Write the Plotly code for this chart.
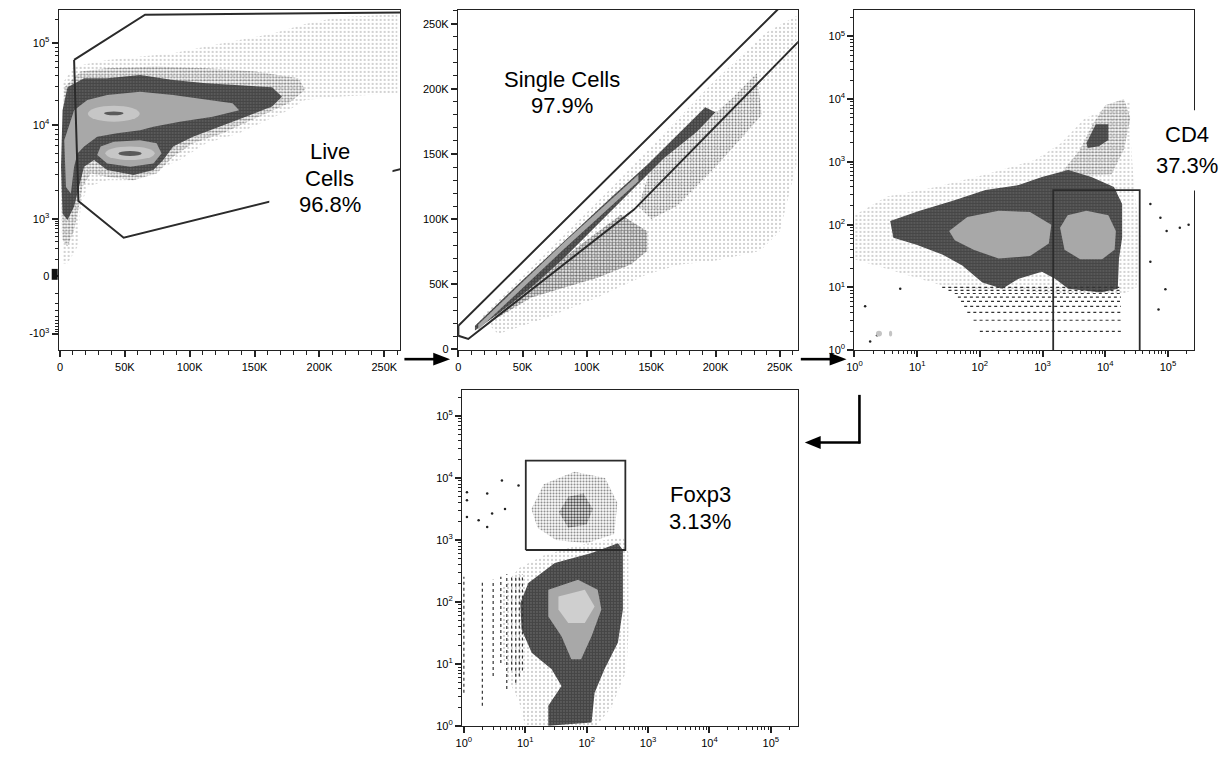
import numpy as np
import plotly.graph_objects as go

W, H = 1231, 764

# ======================= DATA =======================
# ---- Panel 1: FSC-A (linear) vs viability (biexponential) ----
p1_halo_x = [2.0e3, 0.8e3, 2.0e3, 10.9e3, 36.4e3, 61.8e3, 87.2e3, 112.7e3, 138.1e3, 163.5e3, 189e3, 214.4e3, 260.1e3,
             260.1e3, 214.4e3, 189e3, 176.2e3, 138.1e3, 112.7e3, 92.3e3, 74.5e3, 56.7e3, 36.4e3, 21.1e3, 16e3, 13.5e3, 5.8e3]
p1_halo_y = [72, 1600, 32.4e3, 51.8e3, 62.5e3, 68.5e3, 75.3e3, 91e3, 110e3, 132e3, 175e3, 212e3, 232e3,
             24.4e3, 22.2e3, 20.2e3, 15.2e3, 8.2e3, 6.4e3, 4.25e3, 3.33e3, 2.6e3, 2.6e3, 2.2e3, 1.36e3, 224, 72]
p1_mid_x = [2.0e3, 0.8e3, 3.3e3, 16e3, 36.4e3, 74.5e3, 112.7e3, 150.8e3, 183.9e3, 189e3, 176.2e3, 153.3e3, 125.4e3,
            102.5e3, 87.2e3, 74.5e3, 56.7e3, 36.4e3, 23.7e3, 17.3e3, 14.7e3, 10.9e3, 5.8e3]
p1_mid_y = [327, 2.2e3, 28.9e3, 45e3, 49.4e3, 51.8e3, 49.4e3, 45e3, 37.3e3, 26.8e3, 18.4e3, 12.6e3, 8.2e3,
            6.4e3, 4.6e3, 3.06e3, 2.6e3, 2.83e3, 3.06e3, 2.2e3, 1.36e3, 564, 224]
p1_dense_x = [2.0e3, 0.8e3, 2.0e3, 5.8e3, 18.6e3, 36.4e3, 61.8e3, 87.2e3, 112.7e3, 138.1e3, 163.5e3, 171.1e3, 163.5e3,
              143.2e3, 122.8e3, 102.5e3, 87.2e3, 79.6e3, 72e3, 56.7e3, 36.4e3, 26.2e3, 18.6e3, 14.7e3, 10.9e3, 5.8e3]
p1_dense_y = [1.15e3, 3.6e3, 15.2e3, 28.9e3, 37.3e3, 37.3e3, 40.9e3, 35.6e3, 32.4e3, 30.9e3, 28.9e3, 22.2e3, 16.8e3,
              12.6e3, 9.6e3, 7.5e3, 5.9e3, 4.25e3, 3.33e3, 2.94e3, 3.33e3, 4.25e3, 3.6e3, 2.2e3, 1.36e3, 954]
p1_gray_x = [4.6e3, 3.3e3, 10.9e3, 21.1e3, 36.4e3, 61.8e3, 87.2e3, 112.7e3, 133e3, 138.1e3, 117.7e3, 92.3e3, 72e3,
             61.8e3, 44e3, 28.7e3, 18.6e3, 13.5e3, 10.9e3, 8.4e3]
p1_gray_y = [2.2e3, 6.9e3, 15.2e3, 20.2e3, 23.3e3, 25.6e3, 23.3e3, 20.2e3, 18.4e3, 15.2e3, 12.6e3, 11e3, 9.6e3,
             8.8e3, 8.2e3, 7.5e3, 5.9e3, 5.0e3, 3.6e3, 1.88e3]
p1_lobe_x = [31.3e3, 41.5e3, 61.8e3, 74.5e3, 78.3e3, 72e3, 54.2e3, 36.4e3, 28.7e3]
p1_lobe_y = [5.9e3, 6.65e3, 6.9e3, 6.4e3, 5.0e3, 3.9e3, 3.6e3, 3.9e3, 4.8e3]
# density peaks (bounding boxes): [x0, x1, y0, y1]
p1_light_boxes = [[21.5e3, 61.5e3, 11e3, 17.2e3], [35e3, 73e3, 4.25e3, 5.9e3]]
p1_core_boxes = [[34e3, 49e3, 13.2e3, 14.6e3], [45e3, 63e3, 4.7e3, 5.3e3]]
p1_gate_x = [10.9e3, 65.6e3, 275e3, 275e3, 49.1e3, 14.2e3, 10.9e3]
p1_gate_y = [62.5e3, 228.6e3, 245e3, 3760, 371, 1560, 62.5e3]

# ---- Panel 2: FSC-A vs FSC-H (linear) ----
p2_halo_x = [18e3, 121e3, 198e3, 239.7e3, 262.9e3, 262.9e3, 250e3, 234.5e3, 198.4e3, 172.7e3, 146.9e3, 108.2e3, 69.6e3, 30.9e3]
p2_halo_y = [24.5e3, 126e3, 205e3, 243.6e3, 256e3, 141.7e3, 90.7e3, 75.4e3, 67.8e3, 65.2e3, 57.6e3, 39.7e3, 24.5e3, 11.7e3]
p2_mid2_x = [150e3, 185e3, 212e3, 232e3, 236e3, 200e3, 170e3, 150e3, 140e3]
p2_mid2_y = [140e3, 168e3, 192e3, 212e3, 180e3, 140e3, 110e3, 100e3, 110e3]
p2_mid_x = [30.9e3, 56.7e3, 82.5e3, 108.2e3, 134e3, 146.9e3, 146.9e3, 126.3e3, 95.3e3, 69.6e3, 43.8e3]
p2_mid_y = [24.5e3, 39.7e3, 47.4e3, 55e3, 65.2e3, 75.4e3, 90.7e3, 103.4e3, 80.5e3, 60.1e3, 39.7e3]
p2_dense_x = [12.9e3, 43.8e3, 82.5e3, 121.1e3, 146.9e3, 172.7e3, 192e3, 200e3, 185.5e3, 159.8e3, 134e3, 108.2e3, 82.5e3, 56.7e3, 30.9e3, 12.9e3]
p2_dense_y = [18.1e3, 47.4e3, 83.1e3, 118.7e3, 141.7e3, 167.1e3, 186e3, 182e3, 167.1e3, 146.8e3, 121.3e3, 95.8e3, 70.3e3, 47.4e3, 27e3, 14.3e3]
p2_gray_x = [15.5e3, 80e3, 140e3, 140e3, 80e3, 15.5e3]
p2_gray_y = [19e3, 80e3, 134e3, 129e3, 75e3, 15e3]
p2_gate_x = [0, 255e3, 275e3, 275e3, 136.6e3, 7.7e3, 0, 0]
p2_gate_y = [18.1e3, 267.5e3, 267.5e3, 246.9e3, 107.3e3, 7.9e3, 10.4e3, 18.1e3]

# ---- Panel 3: CD4 (log) gating, values as log10 ----
p3_halo_lx = [0.0, 0.52, 1.30, 2.09, 2.88, 3.30, 3.67, 4.04, 4.41, 4.41, 4.46, 4.56, 4.5, 4.3, 3.5, 2.5, 1.5, 1.0, 0.5, 0.0]
p3_halo_ly = [2.15, 2.45, 2.6, 2.8, 3.03, 3.3, 3.69, 3.85, 3.96, 3.3, 2.6, 1.8, 1.0, 0.9, 0.9, 0.95, 1.0, 1.15, 1.3, 1.45]
p3_plume_lx = [3.25, 3.6, 3.8, 4.0, 4.3, 4.4, 4.3, 4.1]
p3_plume_ly = [2.76, 3.2, 3.6, 3.9, 4.0, 3.7, 3.2, 2.8]
p3_blob_lx = [3.7, 3.85, 4.05, 4.05, 3.9, 3.72]
p3_blob_ly = [3.3, 3.6, 3.6, 3.35, 3.25, 3.22]
p3_dense_lx = [0.57, 1.04, 1.57, 2.09, 2.62, 2.99, 3.41, 3.78, 4.14, 4.27, 4.27, 4.22, 4.20, 3.93, 3.41, 3.20, 2.99, 2.62,
               2.36, 2.04, 1.72, 1.41, 0.99, 0.62]
p3_dense_ly = [2.06, 2.22, 2.38, 2.55, 2.63, 2.76, 2.87, 2.76, 2.60, 2.33, 1.79, 1.46, 0.98, 0.92, 0.98, 1.14, 1.25, 1.14,
               0.98, 1.08, 1.35, 1.52, 1.68, 1.79]
p3_grayL_lx = [1.51, 1.8, 2.3, 2.8, 3.14, 3.1, 2.8, 2.3, 1.9, 1.6]
p3_grayL_ly = [1.9, 2.12, 2.22, 2.2, 2.0, 1.7, 1.5, 1.46, 1.6, 1.75]
p3_grayR_lx = [3.28, 3.4, 3.7, 4.05, 4.17, 4.15, 3.95, 3.6, 3.35]
p3_grayR_ly = [1.95, 2.15, 2.22, 2.15, 1.9, 1.6, 1.45, 1.45, 1.6]
p3_light_boxes = [[2.2, 2.75, 1.65, 2.05], [3.55, 4.0, 1.65, 2.05]]   # log10 bounds
p3_rows_y = [2, 3, 4, 5, 6, 7, 8, 9, 10]
p3_rows_lx0 = [2.0, 1.9, 1.8, 1.75, 1.7, 1.65, 1.6, 1.5, 1.4]
p3_rows_lx1 = [4.25, 4.25, 4.25, 4.25, 4.25, 4.25, 4.25, 4.25, 4.25]
p3_out_lx = [4.72, 4.88, 4.98, 5.19, 5.33, 4.72, 4.96, 4.85, 0.17, 0.36, 0.73, 0.25]
p3_out_ly = [2.33, 2.11, 1.9, 1.95, 2.0, 1.41, 0.97, 0.65, 0.7, 0.24, 0.98, 0.14]
p3_gate_lx = [3.17, 4.55]
p3_gate_ly_top = 2.55

# ---- Panel 4: Foxp3 (log), values as log10 ----
p4_halo_lx = [0.6, 0.9, 1.3, 1.8, 2.3, 2.6, 2.68, 2.68, 2.65, 2.4, 2.15, 1.0, 0.9, 0.7, 0.6]
p4_halo_ly = [2.2, 2.55, 2.75, 2.9, 3.0, 3.05, 2.8, 1.5, 0.9, 0.3, 0.0, 0.0, 0.4, 0.8, 1.3]
p4_dense_lx = [1.05, 1.48, 2.08, 2.51, 2.59, 2.59, 2.51, 2.29, 2.13, 2.08, 1.375, 1.375, 1.59, 1.43, 1.105, 0.94, 0.92]
p4_dense_ly = [2.31, 2.63, 2.79, 2.95, 2.84, 1.88, 1.35, 0.92, 0.54, 0.06, 0.01, 0.33, 0.65, 0.92, 1.185, 1.56, 1.985]
p4_gray_lx = [1.375, 1.86, 2.18, 2.24, 2.08, 1.91, 1.75, 1.59, 1.375]
p4_gray_ly = [2.2, 2.36, 2.2, 1.88, 1.45, 1.08, 1.08, 1.45, 1.77]
p4_light_lx = [1.54, 1.97, 2.13, 1.97, 1.70, 1.54]
p4_light_ly = [2.09, 2.2, 1.93, 1.665, 1.665, 1.88]
p4_treg_lx = [1.1, 1.3, 1.8, 2.3, 2.5, 2.45, 2.0, 1.5, 1.2]
p4_treg_ly = [3.5, 3.9, 4.1, 4.0, 3.6, 3.1, 2.95, 3.0, 3.2]
p4_tregc_lx = [1.55, 1.7, 1.95, 2.1, 2.0, 1.7]
p4_tregc_ly = [3.45, 3.7, 3.75, 3.5, 3.25, 3.2]
p4_cols_x = [1, 2, 3, 4, 5, 6, 7, 8, 9]
p4_cols_ly0 = [0.54, 0.33, 0.81, 1.02, 0.6, 0.9, 0.7, 0.8, 0.9]
p4_cols_ly1 = [2.41, 2.36, 2.36, 2.41, 2.45, 2.4, 2.4, 2.45, 2.45]
p4_out_lx = [0.05, 0.05, 0.38, 0.62, 0.46, 0.67, 0.38, 0.05, 0.89, 0.24]
p4_out_ly = [3.77, 3.64, 3.75, 3.96, 3.43, 3.5, 3.21, 3.37, 3.88, 3.32]
p4_gate_x = [10.2, 427]
p4_gate_y = [692, 19050]

# ---- labels / ticks ----
lin_ticks = [0, 50e3, 100e3, 150e3, 200e3, 250e3]
lin_ticktext = ["0", "50K", "100K", "150K", "200K", "250K"]
biex_ticks = [-1e3, 0, 1e3, 1e4, 1e5]
biex_ticktext = ["-10<sup>3</sup>", "0", "10<sup>3</sup>", "10<sup>4</sup>", "10<sup>5</sup>"]
log_ticks = [1, 10, 100, 1e3, 1e4, 1e5]
log_ticktext = ["10<sup>%d</sup>" % k for k in range(6)]
gate_labels = [("Live", "Cells", "96.8%"), ("Single Cells", "97.9%"), ("CD4", "37.3%"), ("Foxp3", "3.13%")]

# ======================= SCALES =======================
BIEX_V = np.array([-1000, 0, 1000, 1e4, 1e5, 262144])
BIEX_D = np.array([16.8, 74.6, 132.1, 227.0, 309.4, 343.0])
def biex(v):
    return np.interp(np.arcsinh(np.asarray(v, dtype=float) / 100), np.arcsinh(BIEX_V / 100), BIEX_D)

def L(a):
    return list(10 ** np.asarray(a, dtype=float))

fig = go.Figure()

def poly(xs, ys, ax, kind):
    xs = list(xs) + [xs[0]]
    ys = list(ys) + [ys[0]]
    tr = dict(x=xs, y=ys, mode="lines", line=dict(width=0), fill="toself",
              hoverinfo="skip", showlegend=False, xaxis="x" + ax, yaxis="y" + ax)
    if kind == "halo":
        tr["fillcolor"] = "rgba(0,0,0,0)"
        tr["fillpattern"] = dict(shape=".", size=4, solidity=0.12, fgcolor="#222", bgcolor="rgba(255,255,255,0)")
    elif kind == "mid":
        tr["fillcolor"] = "rgba(0,0,0,0)"
        tr["fillpattern"] = dict(shape=".", size=3, solidity=0.4, fgcolor="#111", bgcolor="rgba(255,255,255,0)")
    elif kind == "midd":
        tr["fillcolor"] = "rgba(0,0,0,0)"
        tr["fillpattern"] = dict(shape=".", size=3, solidity=0.55, fgcolor="#000", bgcolor="rgba(255,255,255,0)")
    elif kind == "dense":
        tr["fillcolor"] = "#2a2a2a"
        tr["fillpattern"] = dict(shape=".", size=3, solidity=0.8, fgcolor="#000", bgcolor="#8a8a8a")
    elif kind == "gray":
        tr["fillcolor"] = "#a8a8a8"
    elif kind == "light":
        tr["fillcolor"] = "#cfcfcf"
    fig.add_trace(go.Scatter(**tr))

def line(xs, ys, ax, width=2.0, color="#2b2b2b", dash=None):
    fig.add_trace(go.Scatter(x=xs, y=ys, mode="lines", line=dict(color=color, width=width, dash=dash),
                             hoverinfo="skip", showlegend=False, xaxis="x" + ax, yaxis="y" + ax))

def dots(xs, ys, ax):
    fig.add_trace(go.Scatter(x=xs, y=ys, mode="markers", marker=dict(size=2.5, color="#222"),
                             hoverinfo="skip", showlegend=False, xaxis="x" + ax, yaxis="y" + ax))

# Panel 1
poly(p1_halo_x, biex(p1_halo_y), "", "halo")
poly(p1_mid_x, biex(p1_mid_y), "", "mid")
poly(p1_dense_x, biex(p1_dense_y), "", "dense")
poly(p1_gray_x, biex(p1_gray_y), "", "gray")
poly(p1_lobe_x, biex(p1_lobe_y), "", "gray")
line(p1_gate_x, list(biex(p1_gate_y)), "")

# Panel 2
poly(p2_halo_x, p2_halo_y, "2", "halo")
poly(p2_mid2_x, p2_mid2_y, "2", "mid")
poly(p2_mid_x, p2_mid_y, "2", "midd")
poly(p2_dense_x, p2_dense_y, "2", "dense")
poly(p2_gray_x, p2_gray_y, "2", "gray")
line(p2_gate_x, p2_gate_y, "2")

# Panel 3
poly(L(p3_halo_lx), L(p3_halo_ly), "3", "halo")
poly(L(p3_plume_lx), L(p3_plume_ly), "3", "mid")
poly(L(p3_blob_lx), L(p3_blob_ly), "3", "dense")
poly(L(p3_dense_lx), L(p3_dense_ly), "3", "dense")
poly(L(p3_grayL_lx), L(p3_grayL_ly), "3", "gray")
poly(L(p3_grayR_lx), L(p3_grayR_ly), "3", "gray")
for yv, a, b in zip(p3_rows_y, p3_rows_lx0, p3_rows_lx1):
    line([10 ** a, 10 ** b], [yv, yv], "3", width=1.2, color="#333", dash="dot")
dots(L(p3_out_lx), L(p3_out_ly), "3")
g0, g1 = 10 ** p3_gate_lx[0], 10 ** p3_gate_lx[1]
gt = 10 ** p3_gate_ly_top
line([g0, g0, g1, g1], [0.5, gt, gt, 0.5], "3", width=1.8)

# Panel 4
poly(L(p4_halo_lx), L(p4_halo_ly), "4", "halo")
poly(L(p4_treg_lx), L(p4_treg_ly), "4", "mid")
poly(L(p4_tregc_lx), L(p4_tregc_ly), "4", "midd")
poly(L(p4_dense_lx), L(p4_dense_ly), "4", "dense")
poly(L(p4_gray_lx), L(p4_gray_ly), "4", "gray")
poly(L(p4_light_lx), L(p4_light_ly), "4", "light")
for xv, a, b in zip(p4_cols_x, p4_cols_ly0, p4_cols_ly1):
    line([xv, xv], [10 ** a, 10 ** b], "4", width=1.2, color="#333", dash="dot")
dots(L(p4_out_lx), L(p4_out_ly), "4")
line([p4_gate_x[0], p4_gate_x[0], p4_gate_x[1], p4_gate_x[1], p4_gate_x[0]],
     [p4_gate_y[0], p4_gate_y[1], p4_gate_y[1], p4_gate_y[0], p4_gate_y[0]], "4", width=1.8)

# ======================= AXES =======================
def dom_x(a, b):
    return [a / W, b / W]

def dom_y(top, bot):
    return [1 - bot / H, 1 - top / H]

tfont = dict(family="Arial, Liberation Sans, sans-serif", size=11, color="black")
base = dict(showline=True, linecolor="#222", linewidth=1.3, mirror=True, ticks="outside", tickcolor="#222",
            ticklen=6, tickwidth=1.6, showgrid=False, zeroline=False, tickfont=tfont, tickmode="array", fixedrange=True)

def minor(vals, ln=3):
    return dict(tickvals=vals, ticklen=ln, tickwidth=1, ticks="outside", tickcolor="#222", showgrid=False)

lin_minor = [v * 1e3 for v in range(10, 270, 10) if v % 50]
log_minor = [m * 10 ** k for k in range(0, 6) for m in range(2, 10) if m * 10 ** k < 262144]
biex_minor_v = [s * m for m in range(100, 1000, 100) for s in (-1, 1)] + [m * 10 ** k for k in (3, 4) for m in range(2, 10)] + [2e5]

fig.update_layout(
    xaxis=dict(base, domain=dom_x(51, 395), anchor="y", range=[-995, 262400], tickvals=lin_ticks,
               ticktext=lin_ticktext, minor=minor(lin_minor, 4)),
    yaxis=dict(base, domain=dom_y(10, 353), anchor="x", range=[0, 343], tickvals=list(biex(biex_ticks)),
               ticktext=biex_ticktext, minor=minor(list(biex(biex_minor_v)))),
    xaxis2=dict(base, domain=dom_x(453, 795), anchor="y2", range=[-230, 264000], tickvals=lin_ticks,
                ticktext=lin_ticktext, minor=minor(lin_minor, 4)),
    yaxis2=dict(base, domain=dom_y(10, 353), anchor="x2", range=[-760, 260700], tickvals=lin_ticks,
                ticktext=lin_ticktext, minor=minor(lin_minor, 4)),
    xaxis3=dict(base, type="log", domain=dom_x(852, 1194), anchor="y3", range=[0, 5.42], tickvals=log_ticks,
                ticktext=log_ticktext, minor=minor(log_minor)),
    yaxis3=dict(base, type="log", domain=dom_y(10, 353), anchor="x3", range=[0, 5.42], tickvals=log_ticks,
                ticktext=log_ticktext, minor=minor(log_minor)),
    xaxis4=dict(base, type="log", domain=dom_x(457, 795), anchor="y4", range=[-0.03, 5.44], tickvals=log_ticks,
                ticktext=log_ticktext, minor=minor(log_minor)),
    yaxis4=dict(base, type="log", domain=dom_y(393, 732), anchor="x4", range=[0, 5.42], tickvals=log_ticks,
                ticktext=log_ticktext, minor=minor(log_minor)),
    width=W, height=H, margin=dict(l=0, r=0, t=0, b=0), paper_bgcolor="white", plot_bgcolor="white",
    showlegend=False,
)

# density peak ellipses in panel 1
for (x0, x1, y0, y1) in p1_light_boxes:
    fig.add_shape(type="circle", xref="x", yref="y", x0=x0, x1=x1, y0=float(biex(y0)), y1=float(biex(y1)),
                  fillcolor="#c6c6c6", line=dict(width=0), layer="above")
for (x0, x1, y0, y1) in p1_core_boxes:
    fig.add_shape(type="circle", xref="x", yref="y", x0=x0, x1=x1, y0=float(biex(y0)), y1=float(biex(y1)),
                  fillcolor="#5a5a5a", line=dict(width=0), layer="above")
for (a, b, c, d) in p3_light_boxes:
    fig.add_shape(type="circle", xref="x3", yref="y3", x0=a, x1=b, y0=c, y1=d,
                  fillcolor="#c4c4c4", line=dict(width=0), layer="above")

# ======================= DECORATION =======================
def px(x):
    return x / W

def py(y):
    return 1 - y / H

# white boxes behind gate labels
for (x0, y0, x1, y1) in [(263, 140, 387, 216), (1150, 111, 1231, 192)]:
    fig.add_shape(type="rect", xref="paper", yref="paper", x0=px(x0), x1=px(x1), y0=py(y1), y1=py(y0),
                  fillcolor="white", line=dict(width=0), layer="above")

# pile of events at zero on panel 1 y axis
fig.add_shape(type="rect", xref="paper", yref="paper", x0=px(44), x1=px(50), y0=py(282), y1=py(271),
              fillcolor="#111", line=dict(width=0), layer="above")

arrow_style = dict(color="black", width=2.6)
def hline(x0, x1, y):
    fig.add_shape(type="line", xref="paper", yref="paper", x0=px(x0), x1=px(x1), y0=py(y), y1=py(y), line=arrow_style)

def vline(x, y0, y1):
    fig.add_shape(type="line", xref="paper", yref="paper", x0=px(x), x1=px(x), y0=py(y0), y1=py(y1), line=arrow_style)

def head(base_x, tip_x, y, half=6.5):
    path = "M %f,%f L %f,%f L %f,%f Z" % (px(base_x), py(y - half), px(tip_x), py(y), px(base_x), py(y + half))
    fig.add_shape(type="path", xref="paper", yref="paper", path=path, fillcolor="black", line=dict(width=0))

hline(399, 430, 362); head(428, 445, 362)
hline(798, 829, 362); head(827, 844, 362)
vline(857, 398, 447); hline(816, 858, 446); head(818, 802, 446)

lab_font = dict(family="Arial, Liberation Sans, sans-serif", size=22, color="black")
label_pos = [[(324, 153), (324, 180), (324, 206)], [(558, 80), (558, 106)], [(1187, 136), (1187, 167)],
             [(697, 498), (697, 526)]]
for lines_, poss in zip(gate_labels, label_pos):
    for t, (x, y) in zip(lines_, poss):
        fig.add_annotation(text=t, x=px(x), y=py(y), xref="paper", yref="paper", showarrow=False,
                           xanchor="center", yanchor="middle", font=lab_font)

fig.write_html("out.html", config={"displayModeBar": False},
               post_script="document.body.style.margin='0px';document.body.style.overflow='hidden';")
